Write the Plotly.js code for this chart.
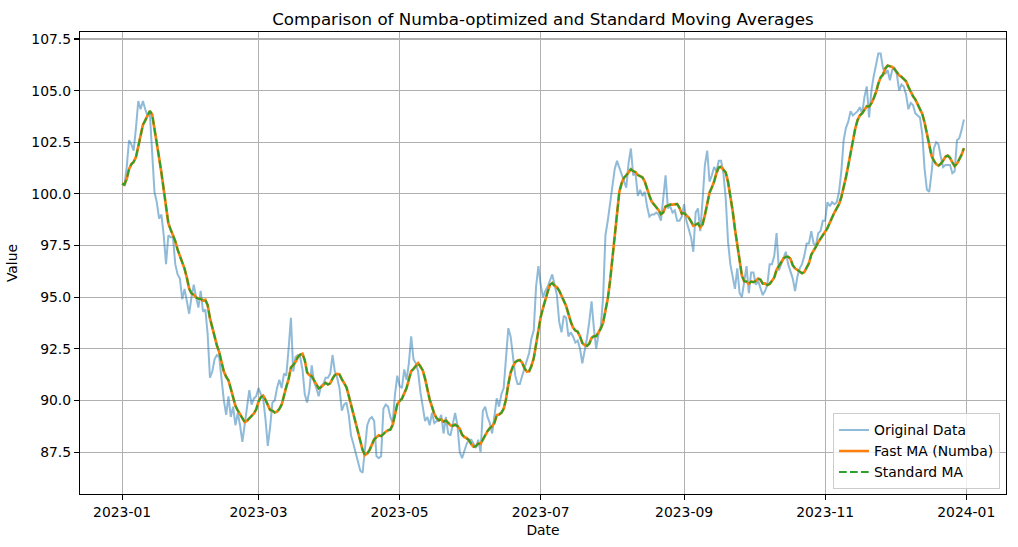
<!DOCTYPE html>
<html>
<head>
<meta charset="utf-8">
<script src="https://cdn.plot.ly/plotly-3.0.1.min.js"></script>
<style>
  html, body { margin: 0; padding: 0; background: #ffffff; }
  #chart { width: 1018px; height: 547px; }
</style>
</head>
<body>
<div id="chart"></div>
<script>
// ---- Data (daily values, 2023-01-01 .. 2023-12-31) ----
const START_DATE = [2023, 0, 1];
const originalValues = [
  100.5,100.4,101.3,102.6,102.4,102.1,103.2,104.5,104.1,104.5,
  104.1,103.8,103.9,102.0,100.1,99.6,98.8,99.0,98.0,96.6,
  98.0,97.9,97.9,96.6,96.1,95.9,94.9,95.4,94.8,94.2,
  95.0,95.6,95.0,94.5,95.3,94.3,94.4,93.2,91.1,91.4,
  92.0,92.2,92.1,91.0,90.0,89.3,90.2,89.2,89.7,88.8,
  89.4,88.8,88.0,88.8,89.6,90.5,89.8,90.1,90.2,90.6,
  90.3,90.1,89.1,87.8,88.7,89.9,90.0,90.6,91.0,90.6,
  91.3,91.2,92.5,94.0,91.4,92.1,92.2,92.1,91.5,90.3,
  89.9,90.5,91.7,90.9,90.6,90.2,90.7,90.8,91.1,91.1,
  91.3,92.2,91.4,91.1,90.6,89.5,89.8,89.9,89.3,88.3,
  87.9,87.5,87.1,86.6,86.5,87.6,88.8,89.1,89.2,89.0,
  87.3,87.2,87.3,89.6,89.8,89.7,89.2,88.9,90.3,91.2,
  90.7,90.6,91.5,91.0,91.8,93.1,92.0,91.8,91.4,90.4,
  89.7,89.0,89.2,88.8,89.4,88.9,89.0,89.0,89.3,88.4,
  89.2,88.4,88.3,88.8,89.4,88.8,87.5,87.2,87.6,87.9,
  88.1,88.1,87.9,87.7,88.1,87.5,89.5,89.7,89.2,88.9,
  88.4,89.2,90.1,89.7,90.3,90.6,92.1,93.5,93.1,92.2,
  91.2,90.8,90.8,91.2,91.6,92.0,92.3,93.0,93.4,95.5,
  96.5,95.6,95.0,95.3,95.5,95.8,96.1,95.6,95.1,93.8,
  93.3,94.1,94.0,93.1,93.3,93.1,92.8,92.9,92.5,91.8,
  92.4,93.0,93.8,94.8,93.5,92.5,93.2,93.6,95.0,98.0,
  98.7,99.5,100.4,101.2,101.6,101.3,100.9,100.6,100.3,101.5,
  102.2,100.9,101.0,99.9,100.2,99.9,100.1,99.4,98.9,99.0,
  99.0,99.1,99.0,98.7,100.0,100.9,99.3,99.4,99.1,99.2,
  98.7,98.7,98.9,99.5,98.7,98.3,97.9,97.2,99.1,99.3,
  98.2,99.7,101.4,102.1,100.6,100.9,101.3,101.1,101.6,101.6,
  101.0,99.8,97.7,96.6,96.0,95.4,96.4,95.2,95.0,95.8,
  96.5,95.2,96.2,96.2,95.6,95.8,95.5,95.1,95.3,95.6,
  96.6,96.6,97.0,98.1,96.3,96.6,96.9,97.2,96.6,96.3,
  95.9,95.3,96.0,96.4,96.6,97.0,97.6,97.6,98.2,97.6,
  97.5,98.1,98.2,98.7,98.7,99.6,99.4,99.6,99.5,99.6,
  100.1,101.1,102.6,103.2,103.5,104.0,103.8,103.9,104.0,104.2,
  103.9,104.7,105.2,103.7,105.0,105.7,106.3,106.8,106.8,106.1,
  105.8,106.0,105.5,106.0,106.1,105.8,105.0,105.3,105.2,104.8,
  104.1,104.4,104.3,103.9,103.8,103.7,102.9,101.2,100.2,100.1,
  101.0,102.2,102.5,102.4,101.8,101.3,101.4,101.4,101.4,101.0,
  101.1,102.6,102.7,103.1,103.6
];
const MA_WINDOW = 7;   // trailing moving-average window, partial windows at the start

const seriesNames = ['Original Data', 'Fast MA (Numba)', 'Standard MA'];
const xTickVals = ['2023-01-01','2023-03-01','2023-05-01','2023-07-01','2023-09-01','2023-11-01','2024-01-01'];
const xTickLabels = ['2023-01','2023-03','2023-05','2023-07','2023-09','2023-11','2024-01'];
const yTickVals = [87.5, 90.0, 92.5, 95.0, 97.5, 100.0, 102.5, 105.0, 107.5];
const yTickLabels = ['87.5','90.0','92.5','95.0','97.5','100.0','102.5','105.0','107.5'];

// ---- derived series ----
const dates = originalValues.map((_, i) =>
  new Date(Date.UTC(START_DATE[0], START_DATE[1], START_DATE[2] + i)).toISOString().slice(0, 10));

function movingAverage(arr, w) {
  const out = [];
  let sum = 0;
  for (let i = 0; i < arr.length; i++) {
    sum += arr[i];
    if (i >= w) sum -= arr[i - w];
    out.push(sum / Math.min(i + 1, w));
  }
  return out;
}
const fastMA = movingAverage(originalValues, MA_WINDOW);
const standardMA = movingAverage(originalValues, MA_WINDOW);

const FONT = 'DejaVu Sans, sans-serif';

const traces = [
  { x: dates, y: originalValues, type: 'scatter', mode: 'lines', name: seriesNames[0],
    line: { color: '#1f77b4', width: 2 }, opacity: 0.5 },
  { x: dates, y: fastMA, type: 'scatter', mode: 'lines', name: seriesNames[1],
    line: { color: '#ff7f0e', width: 2.7 } },
  { x: dates, y: standardMA, type: 'scatter', mode: 'lines', name: seriesNames[2],
    line: { color: '#2ca02c', width: 2, dash: '7.7px,3.3px' } }
];

const axisCommon = {
  showline: true, mirror: true, linecolor: '#000000', linewidth: 1.1,
  ticks: 'outside', ticklen: 5, tickwidth: 1.1, tickcolor: '#000000',
  showgrid: true, gridcolor: '#b0b0b0', gridwidth: 1.1,
  zeroline: false,
  tickfont: { family: FONT, size: 13.9, color: '#000000' }
};

const layout = {
  width: 1018, height: 547,
  paper_bgcolor: '#ffffff', plot_bgcolor: '#ffffff',
  margin: { l: 80, r: 12, t: 32, b: 53, pad: 0 },
  font: { family: FONT, size: 13.9, color: '#000000' },
  title: {
    text: 'Comparison of Numba-optimized and Standard Moving Averages',
    font: { family: FONT, size: 16.7, color: '#000000' },
    x: 0.5, xref: 'paper', xanchor: 'center',
    y: 1, yref: 'paper', yanchor: 'bottom', pad: { b: 7 }
  },
  xaxis: Object.assign({}, axisCommon, {
    type: 'date',
    range: ['2022-12-13 19:12', '2024-01-18 04:48'],
    tickmode: 'array', tickvals: xTickVals, ticktext: xTickLabels,
    title: { text: 'Date', font: { family: FONT, size: 13.9, color: '#000000' }, standoff: 6 }
  }),
  yaxis: Object.assign({}, axisCommon, {
    range: [85.47, 107.84],
    tickmode: 'array', tickvals: yTickVals, ticktext: yTickLabels,
    title: { text: 'Value', font: { family: FONT, size: 13.9, color: '#000000' }, standoff: 10 }
  }),
  showlegend: true,
  legend: {
    x: 0.9935, xref: 'paper', xanchor: 'right',
    y: 0.01, yref: 'paper', yanchor: 'bottom',
    bgcolor: 'rgba(255,255,255,0.8)', bordercolor: '#cccccc', borderwidth: 1,
    font: { family: FONT, size: 13.9, color: '#000000' },
    tracegroupgap: 0
  }
};

Plotly.newPlot('chart', traces, layout, { staticPlot: true, displayModeBar: false });
</script>
</body>
</html>
